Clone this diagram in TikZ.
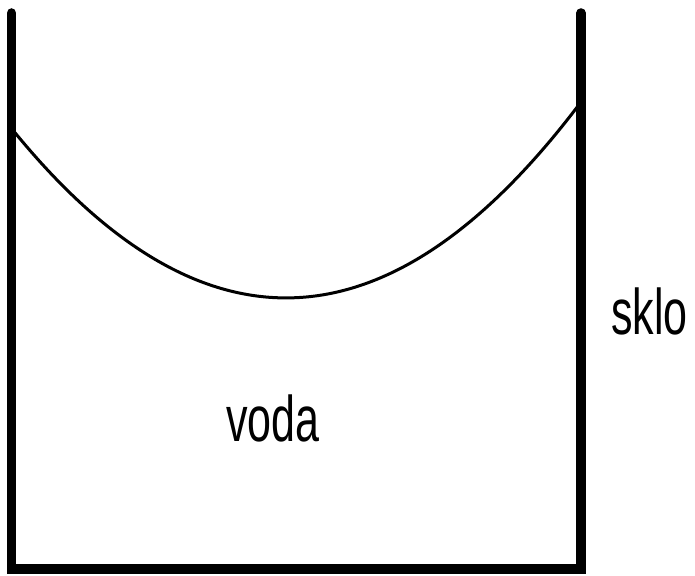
\documentclass[tikz,border=0pt]{standalone}
\usepackage{fontspec}
\setmainfont{Liberation Sans}
\usepackage{graphicx}

\begin{document}
\begin{tikzpicture}[
    x=1pt, y=1pt,
    wall/.style={line width=9.5pt, line cap=round, line join=miter},
    meniscus/.style={line width=3pt},
    lbl/.style={font=\fontsize{43}{50}\selectfont, inner sep=0pt}
]
    \useasboundingbox (0,0) rectangle (695,575);

    % Coordinates
    \coordinate (top_left)  at (11.5, 562);
    \coordinate (bot_left)  at (11.5, 6);
    \coordinate (bot_right) at (581, 6);
    \coordinate (top_right) at (581, 562);

    \coordinate (rim_left)  at (12, 446);
    \coordinate (rim_right) at (581, 473);

    % Glass
    \draw[wall] (top_left) -- (bot_left) -- (bot_right) -- (top_right);

    % Water surface
    \draw[meniscus] (rim_left) .. controls (201.7, 212.1) and (391.3, 221.1) .. (rim_right);

    % Labels
    \node[lbl, anchor=base] (voda) at (273, 133) {\scalebox{1}[1.5]{voda}};
    \node[lbl, anchor=base west] (sklo) at (611, 240) {\scalebox{1}[1.5]{sklo}};

\end{tikzpicture}
\end{document}
